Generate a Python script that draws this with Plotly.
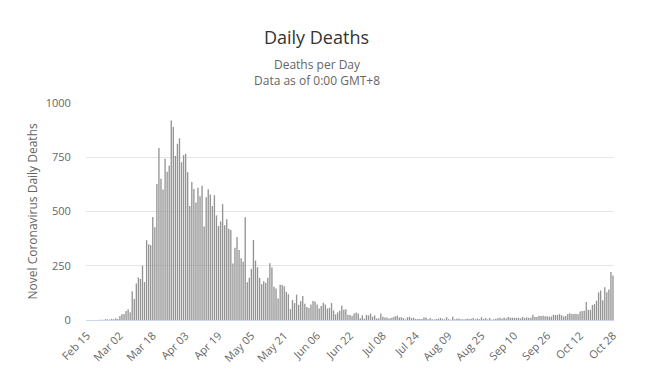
import pandas as pd
import plotly.graph_objects as go

# Daily deaths, Feb 15 – Oct 28 (2020), grouped by month
feb_deaths = [0, 0, 0, 0, 0, 0, 1, 1, 1, 4, 3, 2, 5, 4, 8]
mar_deaths = [5, 18, 27, 28, 41, 49, 36, 133, 97, 168, 196, 189, 250, 175, 368, 349,
              345, 475, 427, 627, 793, 651, 601, 743, 683, 712, 919, 889, 756, 812, 837]
apr_deaths = [727, 760, 766, 681, 525, 636, 604, 542, 610, 570, 619, 431, 566, 602, 578,
              525, 575, 482, 433, 454, 534, 437, 464, 420, 415, 260, 333, 382, 323, 285]
may_deaths = [269, 474, 174, 195, 236, 369, 274, 243, 194, 165, 179, 172, 195, 262, 242,
              153, 145, 99, 162, 161, 156, 130, 119, 50, 92, 78, 117, 70, 87, 111, 75]
jun_deaths = [60, 55, 71, 88, 85, 72, 53, 65, 79, 71, 53, 56, 78, 44, 26, 34, 43, 66, 47,
              49, 24, 23, 18, 30, 34, 30, 8, 22, 6, 23]
jul_deaths = [21, 30, 15, 21, 7, 8, 30, 15, 12, 12, 7, 9, 13, 17, 20, 11, 13, 9, 3, 13, 15,
              9, 10, 5, 5, 5, 5, 11, 11, 3, 9]
aug_deaths = [3, 2, 5, 6, 10, 6, 3, 13, 4, 1, 15, 3, 6, 7, 3, 4, 4, 7, 5, 6, 9, 4, 7, 4, 13,
              5, 9, 3, 9, 1, 4]
sep_deaths = [6, 8, 10, 6, 11, 7, 14, 10, 10, 10, 10, 10, 7, 14, 9, 12, 10, 10, 24, 14, 14,
              20, 19, 20, 17, 17, 15, 16, 24, 23]
oct_deaths = [23, 27, 22, 16, 18, 28, 31, 28, 28, 29, 26, 39, 41, 43, 83, 47, 47, 69, 73, 89,
              127, 136, 91, 151, 128, 141, 221, 205]

start_date = "2020-02-15"
deaths = (feb_deaths + mar_deaths + apr_deaths + may_deaths + jun_deaths +
          jul_deaths + aug_deaths + sep_deaths + oct_deaths)
dates = pd.date_range(start_date, periods=len(deaths), freq="D")

y_ticks = [0, 250, 500, 750, 1000]

FONT = "Open Sans, Noto Sans, sans-serif"

# page body has an 8px default margin; figure is sized to fit inside the window
W, H = 638, 361
PL, PR, PT, PB = 78, 32, 95, 49

fig = go.Figure(go.Bar(
    x=dates, y=deaths,
    marker=dict(color="rgba(146,146,146,0.99)", line=dict(width=0)),
    hoverinfo="x+y",
))

fig.update_layout(
    width=W, height=H,
    margin=dict(l=PL, r=PR, t=PT, b=PB, pad=0, autoexpand=False),
    paper_bgcolor="white", plot_bgcolor="white",
    bargap=0.35,
    showlegend=False,
    font=dict(family=FONT, color="#666666", size=11),
    title=dict(text="Daily Deaths", x=308.5 / W, xanchor="center",
               yref="container", y=1 - 30 / H, yanchor="middle",
               font=dict(family=FONT, size=18, color="#333333")),
)

fig.update_xaxes(
    type="date",
    range=[pd.Timestamp(start_date) - pd.Timedelta(hours=12),
           dates[-1] + pd.Timedelta(hours=12)],
    tick0=start_date, dtick=16 * 86400000,
    tickformat="%b %d", tickangle=-45,
    showgrid=False, zeroline=False, automargin=False,
    showline=True, linecolor="#ccd6eb", linewidth=1,
    ticks="outside", ticklen=4, tickcolor="rgba(0,0,0,0)",
    tickfont=dict(size=11, color="#666666"),
)
fig.update_yaxes(
    range=[0, 1000], tickvals=y_ticks, automargin=False,
    showgrid=True, gridcolor="#e6e6e6", gridwidth=1,
    zeroline=False, showline=False,
    ticks="outside", ticklen=12, tickcolor="rgba(0,0,0,0)",
    tickfont=dict(size=11, color="#666666"),
)

plot_w = W - PL - PR
plot_h = H - PT - PB
fig.add_annotation(text="Deaths per Day<br>Data as of 0:00 GMT+8", xref="paper", yref="paper",
                   x=(308.5 - PL) / plot_w, y=(plot_h + PT - 65) / plot_h,
                   xanchor="center", yanchor="middle", align="center",
                   showarrow=False, font=dict(family=FONT, size=12, color="#666666"))
fig.add_annotation(text="Novel Coronavirus Daily Deaths", xref="paper", yref="paper",
                   x=(24 - PL) / plot_w, y=0.5, xanchor="center", yanchor="middle",
                   textangle=-90, showarrow=False,
                   font=dict(family=FONT, size=12, color="#666666"))

fig.write_html("out.html", config={"displayModeBar": False})
